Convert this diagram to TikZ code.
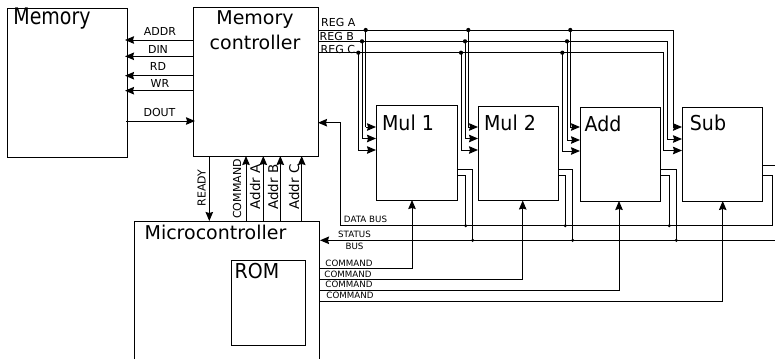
\documentclass[tikz,border=0pt]{standalone}
\usepackage{fontspec}
\setmainfont{DejaVu Sans}
\usetikzlibrary{arrows.meta}
\tikzset{
  x=1pt,y=-1pt,
  conn/.style={line width=1pt,-{Stealth[length=9pt,width=7.5pt,inset=1pt]}},
  wire/.style={line width=1pt},
  dot/.style={circle,fill=black,inner sep=0,minimum size=4.2pt},
  sdot/.style={circle,fill=black,inner sep=0,minimum size=3.4pt},
  big/.style={font=\fontsize{19}{22}\selectfont,inner sep=0},
  med/.style={font=\fontsize{11}{13}\selectfont,inner sep=0},
  small/.style={font=\fontsize{8.7}{10}\selectfont,inner sep=0},
  addr/.style={font=\fontsize{13.4}{15}\selectfont,inner sep=0,rotate=90},
  boxline/.style={line width=1pt}
}
\begin{document}
\begin{tikzpicture}
\useasboundingbox (0,0) rectangle (775,359);
% boxes
\draw[boxline] (7,8) rectangle (127,157);
\draw[boxline] (193,7.5) rectangle (318,156);
\draw[boxline] (376,105.5) rectangle (457,200);
\draw[boxline] (478,106) rectangle (558.5,200.5);
\draw[boxline] (580,107) rectangle (660.5,201);
\draw[boxline] (682,107) rectangle (762.5,201);
\draw[boxline] (134.3,359) -- (134.3,221.3) -- (319.7,221.3) -- (319.7,359);
\draw[boxline] (231.7,260) rectangle (305,345);
% box titles
\node[big] (tmem) at (52,19) {\scalebox{1}[1.2]{Memory}};
\node[big] (tctl1) at (255,20) {Memory};
\node[big] (tctl2) at (255,42.5) {controller};
\node[big] (tm1) at (408,122.5) {\scalebox{1}[1.08]{Mul 1}};
\node[big] (tm2) at (510,122.5) {\scalebox{1}[1.08]{Mul 2}};
\node[big] (tadd) at (603,124) {\scalebox{1}[1.08]{Add}};
\node[big] (tsub) at (708,123) {\scalebox{1}[1.08]{Sub}};
\node[big] (tmc) at (215.5,232) {Microcontroller};
\node[big] (trom) at (257,271) {\scalebox{1}[1.08]{ROM}};
% memory connectors
\draw[conn] (193,40) -- (125,40);
\draw[conn] (193,56.3) -- (125,56.3);
\draw[conn] (194,75.7) -- (125,75.7);
\draw[conn] (194,90.7) -- (125,90.7);
\draw[conn] (126,121) -- (195,121);
\node[med] at (160,31) {ADDR};
\node[med] at (158,49) {DIN};
\node[med] at (158,66) {RD};
\node[med] at (160,83) {WR};
\node[med] at (159.5,112) {DOUT};
% vertical links
\draw[conn] (209.3,156) -- (209.3,221);
\draw[conn] (246,221) -- (246,156);
\draw[conn] (263.3,221) -- (263.3,156);
\draw[conn] (280.3,221) -- (280.3,156);
\draw[conn] (301.7,221) -- (301.7,156);
\node[med,rotate=90] at (201.7,188) {READY};
\node[med,rotate=90] at (237,189) {COMMAND};
\node[addr] at (255,187) {Addr A};
\node[addr] at (273,187) {Addr B};
\node[addr] at (294,187) {Addr C};
% register buses
\draw[wire] (318,30) -- (673,30) -- (673,127);
\draw[wire] (318,41.3) -- (667.3,41.3) -- (667.3,139);
\draw[wire] (318,52.7) -- (663.7,52.7) -- (663.7,150.5);
\draw[conn] (673,127) -- (682,127);
\draw[conn] (667.3,139) -- (682,139);
\draw[conn] (663.7,150.5) -- (682,150.5);
\node[med,anchor=west] at (321,22) {REG A};
\node[med,anchor=west] at (319.5,36) {REG B};
\node[med,anchor=west] at (320.5,49) {REG C};
% Mul 1 inputs
\draw[wire] (365.7,30) -- (365.7,127);
\draw[wire] (362,41.3) -- (362,138.5);
\draw[wire] (358.3,52.7) -- (358.3,150);
\draw[conn] (365.7,127) -- (376,127);
\draw[conn] (362,138.5) -- (376,138.5);
\draw[conn] (358.3,150) -- (376,150);
\node[dot] at (365.7,30) {};
\node[dot] at (362,41.3) {};
\node[dot] at (358.3,52.7) {};
% Mul 2 inputs
\draw[wire] (468.3,30) -- (468.3,127);
\draw[wire] (465,41.3) -- (465,138.5);
\draw[wire] (461,52.7) -- (461,150);
\draw[conn] (468.3,127) -- (478,127);
\draw[conn] (465,138.5) -- (478,138.5);
\draw[conn] (461,150) -- (478,150);
\node[dot] at (468.3,30) {};
\node[dot] at (465,41.3) {};
\node[dot] at (461,52.7) {};
% Add inputs
\draw[wire] (570.3,30) -- (570.3,127);
\draw[wire] (567,41.3) -- (567,140);
\draw[wire] (562.3,52.7) -- (562.3,151);
\draw[conn] (570.3,127) -- (580,127);
\draw[conn] (567,140) -- (580,140);
\draw[conn] (562.3,151) -- (580,151);
\node[dot] at (570.3,30) {};
\node[dot] at (567,41.3) {};
\node[dot] at (562.3,52.7) {};
% outputs
\draw[wire] (457,169) -- (472.7,169) -- (472.7,240.3);
\draw[wire] (457,175.7) -- (465.7,175.7) -- (465.7,225.7);
\draw[wire] (558.5,169) -- (572.7,169) -- (572.7,240.3);
\draw[wire] (558.5,175.7) -- (565.3,175.7) -- (565.3,225.7);
\draw[wire] (660.5,169) -- (676.3,169) -- (676.3,240.3);
\draw[wire] (660.5,175.7) -- (669.3,175.7) -- (669.3,225.7);
\draw[wire] (762.5,165) -- (775,165);
\node[sdot] at (465.7,225.7) {};
\node[sdot] at (472.7,240.3) {};
\node[sdot] at (565.3,225.7) {};
\node[sdot] at (572.7,240.3) {};
\node[sdot] at (669.3,225.7) {};
\node[sdot] at (676.3,240.3) {};
% data and status bus
\draw[conn] (762.5,175.7) -- (772.7,175.7) -- (772.7,225.7) -- (340.7,225.7) -- (340.7,122.7) -- (318,122.7);
\draw[conn] (775,240.3) -- (320,240.3);
\node[small] at (365.5,219) {DATA BUS};
\node[small] at (354.5,234.5) {STATUS};
\node[small] at (354.5,246.5) {BUS};
% commands
\draw[conn] (320,268.7) -- (412,268.7) -- (412,200);
\draw[conn] (320,279.3) -- (522.7,279.3) -- (522.7,200.5);
\draw[conn] (320,290.3) -- (619,290.3) -- (619,201);
\draw[conn] (320,301) -- (722.7,301) -- (722.7,201);
\node[small] at (349,263.5) {COMMAND};
\node[small] at (348,274.5) {COMMAND};
\node[small] at (349,284.5) {COMMAND};
\node[small] at (350,295) {COMMAND};
\end{tikzpicture}
\end{document}
